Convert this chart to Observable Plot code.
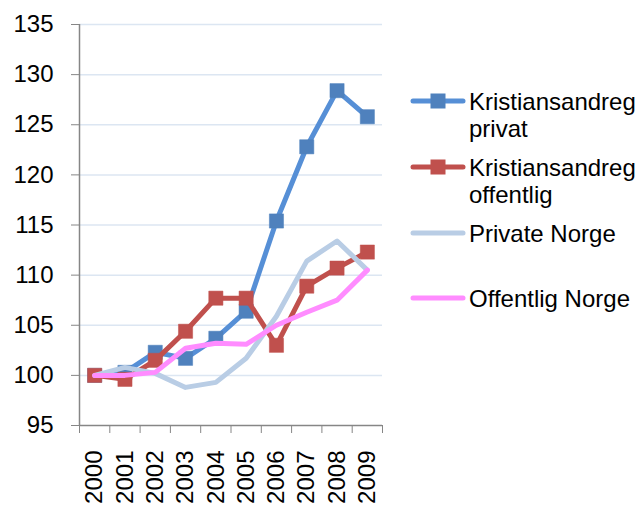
<!DOCTYPE html>
<html>
<head>
<meta charset="utf-8">
<script src="https://cdn.jsdelivr.net/npm/d3@7"></script>
<script src="https://cdn.jsdelivr.net/npm/@observablehq/plot@0.6"></script>
<style>
  html, body { margin: 0; padding: 0; background: #fff; }
  #wrap { position: relative; width: 638px; height: 509px; font-family: "Liberation Sans", Arial, sans-serif; }
  #legend { position: absolute; left: 410px; top: 0; }
  .item { position: absolute; left: 0; display: flex; align-items: flex-start; white-space: nowrap; }
  .item svg { flex: none; margin-top: 3px; }
  .item span { font-size: 24px; line-height: 27px; color: #000; margin-left: 3px; width: 168px; white-space: normal; }
</style>
</head>
<body>
<div id="wrap"><div id="legend"></div></div>
<script>
const years = [2000, 2001, 2002, 2003, 2004, 2005, 2006, 2007, 2008, 2009];
const kristPrivat    = [100, 100.3, 102.3, 101.7, 103.7, 106.4, 115.4, 122.8, 128.4, 125.8];
const kristOffentlig = [100, 99.6, 101.5, 104.4, 107.7, 107.7, 103.0, 108.9, 110.7, 112.3];
const privateNorge   = [100, 100.8, 100.2, 98.8, 99.3, 101.7, 105.9, 111.4, 113.4, 110.5];
const offentligNorge = [100, 100.0, 100.3, 102.7, 103.2, 103.1, 105.0, 106.3, 107.5, 110.5];
const yTicks = [95, 100, 105, 110, 115, 120, 125, 130, 135];
const seriesNames = ["Kristiansandreg privat", "Kristiansandreg offentlig", "Private Norge", "Offentlig Norge"];
const seriesValues = [kristPrivat, kristOffentlig, privateNorge, offentligNorge];
const lineColors = ["#568fd6", "#c0504d", "#b9cde5", "#ff8cff"];
const markerColors = ["#4f81bd", "#c0504d", null, null];

const rows = seriesNames.map((name, s) => years.map((yr, i) => ({year: yr, value: seriesValues[s][i], series: name})));
const boundaries = [...years.map(y => y - 0.5), years[years.length - 1] + 0.5];

const marks = [
  Plot.gridY(yTicks.filter(v => v > yTicks[0]), {stroke: "#dce6f2", strokeOpacity: 1, strokeWidth: 1.5}),
  Plot.axisY(yTicks, {label: null, tickSize: 8, tickPadding: 18, fontSize: 24, stroke: "#868686", fill: "#000"}),
  Plot.axisX(boundaries, {label: null, tickSize: 8, tickFormat: () => "", stroke: "#868686"}),
  Plot.axisX(years, {label: null, tickSize: 0, tickPadding: 25, tickRotate: -90, fontSize: 24, fill: "#000", tickFormat: d => String(d)}),
  Plot.ruleY([yTicks[0]], {stroke: "#868686", strokeWidth: 1.5}),
  Plot.ruleX([boundaries[0]], {stroke: "#868686", strokeWidth: 1.5})
];
rows.forEach((data, s) => {
  marks.push(Plot.line(data, {x: "year", y: "value", stroke: lineColors[s], strokeWidth: 5, strokeLinejoin: "round", strokeLinecap: "round"}));
  if (markerColors[s]) {
    marks.push(Plot.dot(data, {x: "year", y: "value", symbol: "square", r: 8, fill: markerColors[s], stroke: markerColors[s], strokeWidth: 0.5}));
  }
});

const chart = Plot.plot({
  width: 638,
  height: 509,
  marginLeft: 79,
  marginRight: 256,
  marginTop: 24,
  marginBottom: 84,
  style: {fontFamily: "'Liberation Sans', Arial, sans-serif", color: "#000", background: "#fff"},
  x: {type: "linear", domain: [boundaries[0], boundaries[boundaries.length - 1]], axis: null},
  y: {domain: [yTicks[0], yTicks[yTicks.length - 1]], axis: null},
  marks
});
document.getElementById("wrap").prepend(chart);

// legend
const legend = document.getElementById("legend");
const rowTops = [88, 154, 220, 285];
seriesNames.forEach((name, s) => {
  const item = document.createElement("div");
  item.className = "item";
  item.style.top = rowTops[s] + "px";
  const ns = "http://www.w3.org/2000/svg";
  const svg = document.createElementNS(ns, "svg");
  svg.setAttribute("width", 56);
  svg.setAttribute("height", 20);
  const ln = document.createElementNS(ns, "line");
  ln.setAttribute("x1", 3); ln.setAttribute("x2", 53);
  ln.setAttribute("y1", 10); ln.setAttribute("y2", 10);
  ln.setAttribute("stroke", lineColors[s]);
  ln.setAttribute("stroke-width", 5);
  ln.setAttribute("stroke-linecap", "round");
  svg.appendChild(ln);
  if (markerColors[s]) {
    const r = document.createElementNS(ns, "rect");
    r.setAttribute("x", 20.5); r.setAttribute("y", 2.5);
    r.setAttribute("width", 15); r.setAttribute("height", 15);
    r.setAttribute("fill", markerColors[s]);
    svg.appendChild(r);
  }
  item.appendChild(svg);
  const span = document.createElement("span");
  span.textContent = name;
  item.appendChild(span);
  legend.appendChild(item);
});
</script>
</body>
</html>
